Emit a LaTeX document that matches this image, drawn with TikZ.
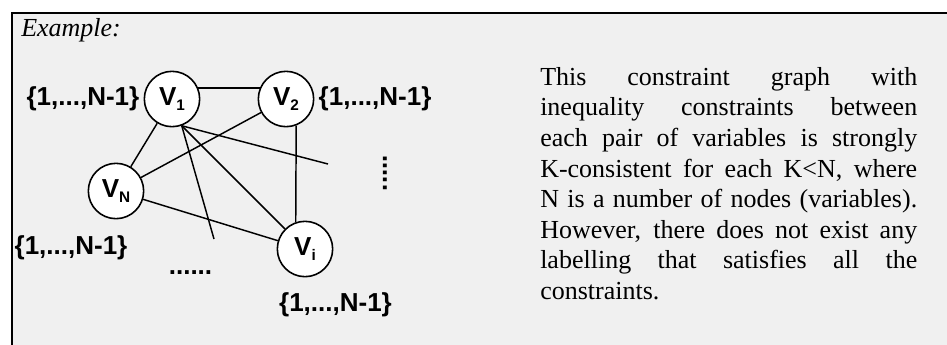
\documentclass[tikz,border=0pt]{standalone}
\usepackage{fontspec}
\setmainfont{Liberation Serif}
\setsansfont{Liberation Sans}
\usetikzlibrary{positioning}
\definecolor{panelGray}{HTML}{F0F0F0}
\newcommand{\vlabel}[1]{V\raisebox{-3.6pt}{\fontsize{11.5}{12}\selectfont #1}}

\begin{document}
\begin{tikzpicture}[
      x=0.75pt, y=-0.75pt,
      every node/.style={font=\fontsize{19.5}{23}\selectfont\sffamily\bfseries},
      vnode/.style={draw, circle, fill=white, line width=1.2pt, minimum size=41.5pt, inner sep=0pt},
      dom/.style={inner sep=0pt},
      edge/.style={line width=1.1pt},
      note/.style={font=\fontsize{19.5}{22.95}\selectfont\rmfamily, text width=282.75pt,
                   align=justify, anchor=north west, inner sep=0pt}
    ]
    \useasboundingbox (0,0) rectangle (947,344);
    % --- panel ---
    \draw[fill=panelGray, line width=1.5pt] (11.5,13) rectangle (970,370);
    \node[font=\fontsize{19.5}{23}\selectfont\rmfamily\itshape, anchor=base west, inner sep=0pt] (title) at (21,36) {Example:};

    % --- variables ---
    \node[vnode] (v1) at (172,99) {\vlabel{1}};
    \node[vnode] (v2) at (286,99) {\vlabel{2}};
    \node[vnode] (vn) at (116,191) {\vlabel{N}};
    \node[vnode] (vi) at (305,249) {\vlabel{i}};

    % --- domains ---
    \node[dom, left=3pt of v1] (d1) {\{1,...,N-1\}};
    \node[dom, right=3pt of v2] (d2) {\{1,...,N-1\}};
    \node[dom] (dn) at (71,248) {\{1,...,N-1\}};
    \node[dom] (di) at (335.5,305) {\{1,...,N-1\}};

    \node[dom] (hdots) at (190.5,273) {......};
    \node[dom, rotate=90] (vdots) at (385,173) {.....};

    % --- constraints ---
    \draw[edge] (v1.23) -- (v2.157);
    \draw[edge] (v1) -- (vn);
    \draw[edge] (v2) -- (vn);
    \draw[edge] (v2.-69) -- (vi.109);
    \draw[edge] (vn) -- (vi);
    \coordinate (hub) at (v1.-70);
    \coordinate (stubA) at (328,164);
    \coordinate (stubB) at (214,239);
    \draw[edge] (hub) -- (vi);
    \draw[edge] (hub) -- (stubA);
    \draw[edge] (hub) -- (stubB);

    \node[note] (text) at (540,67) {This constraint graph with\linebreak
      inequality constraints between\linebreak
      each pair of variables is strongly\linebreak
      K-consistent for each K<N, where\linebreak
      N is a number of nodes (variables).\linebreak
      However, there does not exist any\linebreak
      labelling that satisfies all the\linebreak
      constraints.};
  \end{tikzpicture}
\end{document}
